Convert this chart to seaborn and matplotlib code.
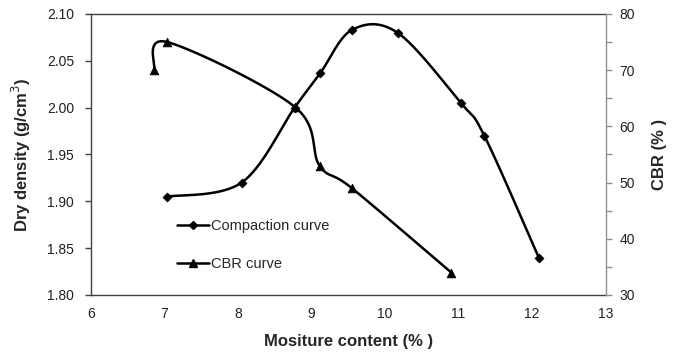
import numpy as np
import pandas as pd
import matplotlib
matplotlib.use("Agg")
import matplotlib.pyplot as plt
import seaborn as sns
from matplotlib.lines import Line2D
from matplotlib.ticker import MultipleLocator

# Data
comp_moisture = [7.04, 8.05, 8.77, 9.12, 9.55, 10.17, 11.03, 11.35, 12.09]
comp_density = [1.905, 1.920, 2.000, 2.037, 2.083, 2.080, 2.005, 1.970, 1.840]
cbr_moisture = [6.86, 7.04, 8.77, 9.11, 9.55, 10.90]
cbr_value = [70.0, 75.0, 63.5, 53.0, 49.0, 34.0]

xlim = (6, 13)
ylim_left = (1.80, 2.10)
ylim_right = (30, 80)

sns.set_style("white")
plt.rcParams['font.family'] = ['Liberation Sans', 'DejaVu Sans']


def smooth(xs, ys, xr, yr, w=516.0, h=281.0, n=40):
    # Excel-style smoothed line (Catmull-Rom Bezier) computed in screen-like units
    px = (np.asarray(xs) - xr[0]) / (xr[1] - xr[0]) * w
    py = (np.asarray(ys) - yr[0]) / (yr[1] - yr[0]) * h
    P = np.column_stack([px, py])
    Pe = np.vstack([P[0], P, P[-1]])
    out = []
    t = np.linspace(0, 1, n)[:, None]
    for i in range(len(P) - 1):
        p0, p1, p2, p3 = Pe[i], Pe[i + 1], Pe[i + 2], Pe[i + 3]
        b1 = p1 + (p2 - p0) / 6.0
        b2 = p2 - (p3 - p1) / 6.0
        seg = ((1 - t) ** 3) * p1 + 3 * ((1 - t) ** 2) * t * b1 + 3 * (1 - t) * t ** 2 * b2 + t ** 3 * p2
        out.append(seg if i == 0 else seg[1:])
    out = np.vstack(out)
    sx = out[:, 0] / w * (xr[1] - xr[0]) + xr[0]
    sy = out[:, 1] / h * (yr[1] - yr[0]) + yr[0]
    return pd.DataFrame({"x": sx, "y": sy})


fig = plt.figure(figsize=(6.73, 3.58), dpi=100)
ax = fig.add_axes([0.135, 0.176, 0.765, 0.785])
ax2 = ax.twinx()

comp_s = smooth(comp_moisture, comp_density, xlim, ylim_left)
cbr_s = smooth(cbr_moisture, cbr_value, xlim, ylim_right)

sns.lineplot(data=comp_s, x="x", y="y", sort=False, ax=ax, color="black", linewidth=1.8, estimator=None)
sns.scatterplot(x=comp_moisture, y=comp_density, ax=ax, marker="D", s=22, color="black", edgecolor="black", zorder=5)
sns.lineplot(data=cbr_s, x="x", y="y", sort=False, ax=ax2, color="black", linewidth=1.8, estimator=None)
sns.scatterplot(x=cbr_moisture, y=cbr_value, ax=ax2, marker="^", s=40, color="black", edgecolor="black", zorder=5)

ax.set_xlim(*xlim)
ax.set_ylim(*ylim_left)
ax2.set_ylim(*ylim_right)
ax.xaxis.set_major_locator(MultipleLocator(1))
ax.yaxis.set_major_locator(MultipleLocator(0.05))
ax.yaxis.set_major_formatter(matplotlib.ticker.FormatStrFormatter("%.2f"))
ax2.yaxis.set_major_locator(MultipleLocator(10))
ax2.yaxis.set_minor_locator(MultipleLocator(5))

dark = "#404040"
grey = "#909090"
for s in ["left", "bottom", "top"]:
    ax.spines[s].set_color(dark)
    ax.spines[s].set_linewidth(1.0)
ax.spines["right"].set_visible(False)
for s in ["left", "bottom", "top"]:
    ax2.spines[s].set_visible(False)
ax2.spines["right"].set_color(grey)
ax2.spines["right"].set_linewidth(1.0)

ax.tick_params(axis="y", direction="out", length=4, width=1, color=dark, labelsize=10, labelcolor="#222222", pad=8)
ax.tick_params(axis="x", direction="out", length=4, width=1, color=dark, labelsize=10, labelcolor="#222222", pad=5)
ax2.tick_params(axis="y", which="major", direction="out", length=4, width=1, color=grey, labelsize=10, labelcolor="#222222", pad=6)
ax2.tick_params(axis="y", which="minor", direction="out", length=4, width=1, color=grey)

ax.set_xlabel("Mositure content (% )", fontsize=12, fontweight="bold", labelpad=9)
ax.set_ylabel("Dry density (g/cm$^3$)", fontsize=12, fontweight="bold", labelpad=10)
ax2.set_ylabel("CBR (% )", fontsize=12, fontweight="bold", labelpad=12)

h1 = Line2D([0], [0], color="black", lw=1.8, marker="D", markersize=4)
h2 = Line2D([0], [0], color="black", lw=1.8, marker="^", markersize=6)
leg1 = ax.legend([h1], ["Compaction curve"], loc="center left", bbox_to_anchor=(0.167, 0.246),
                 frameon=False, fontsize=10.5, handlelength=2.2, handletextpad=0.15,
                 borderaxespad=0, borderpad=0)
ax.add_artist(leg1)
leg2 = ax.legend([h2], ["CBR curve"], loc="center left", bbox_to_anchor=(0.167, 0.110),
                 frameon=False, fontsize=10.5, handlelength=2.2, handletextpad=0.15,
                 borderaxespad=0, borderpad=0)

fig.savefig("out.png", dpi=100, facecolor="white")
